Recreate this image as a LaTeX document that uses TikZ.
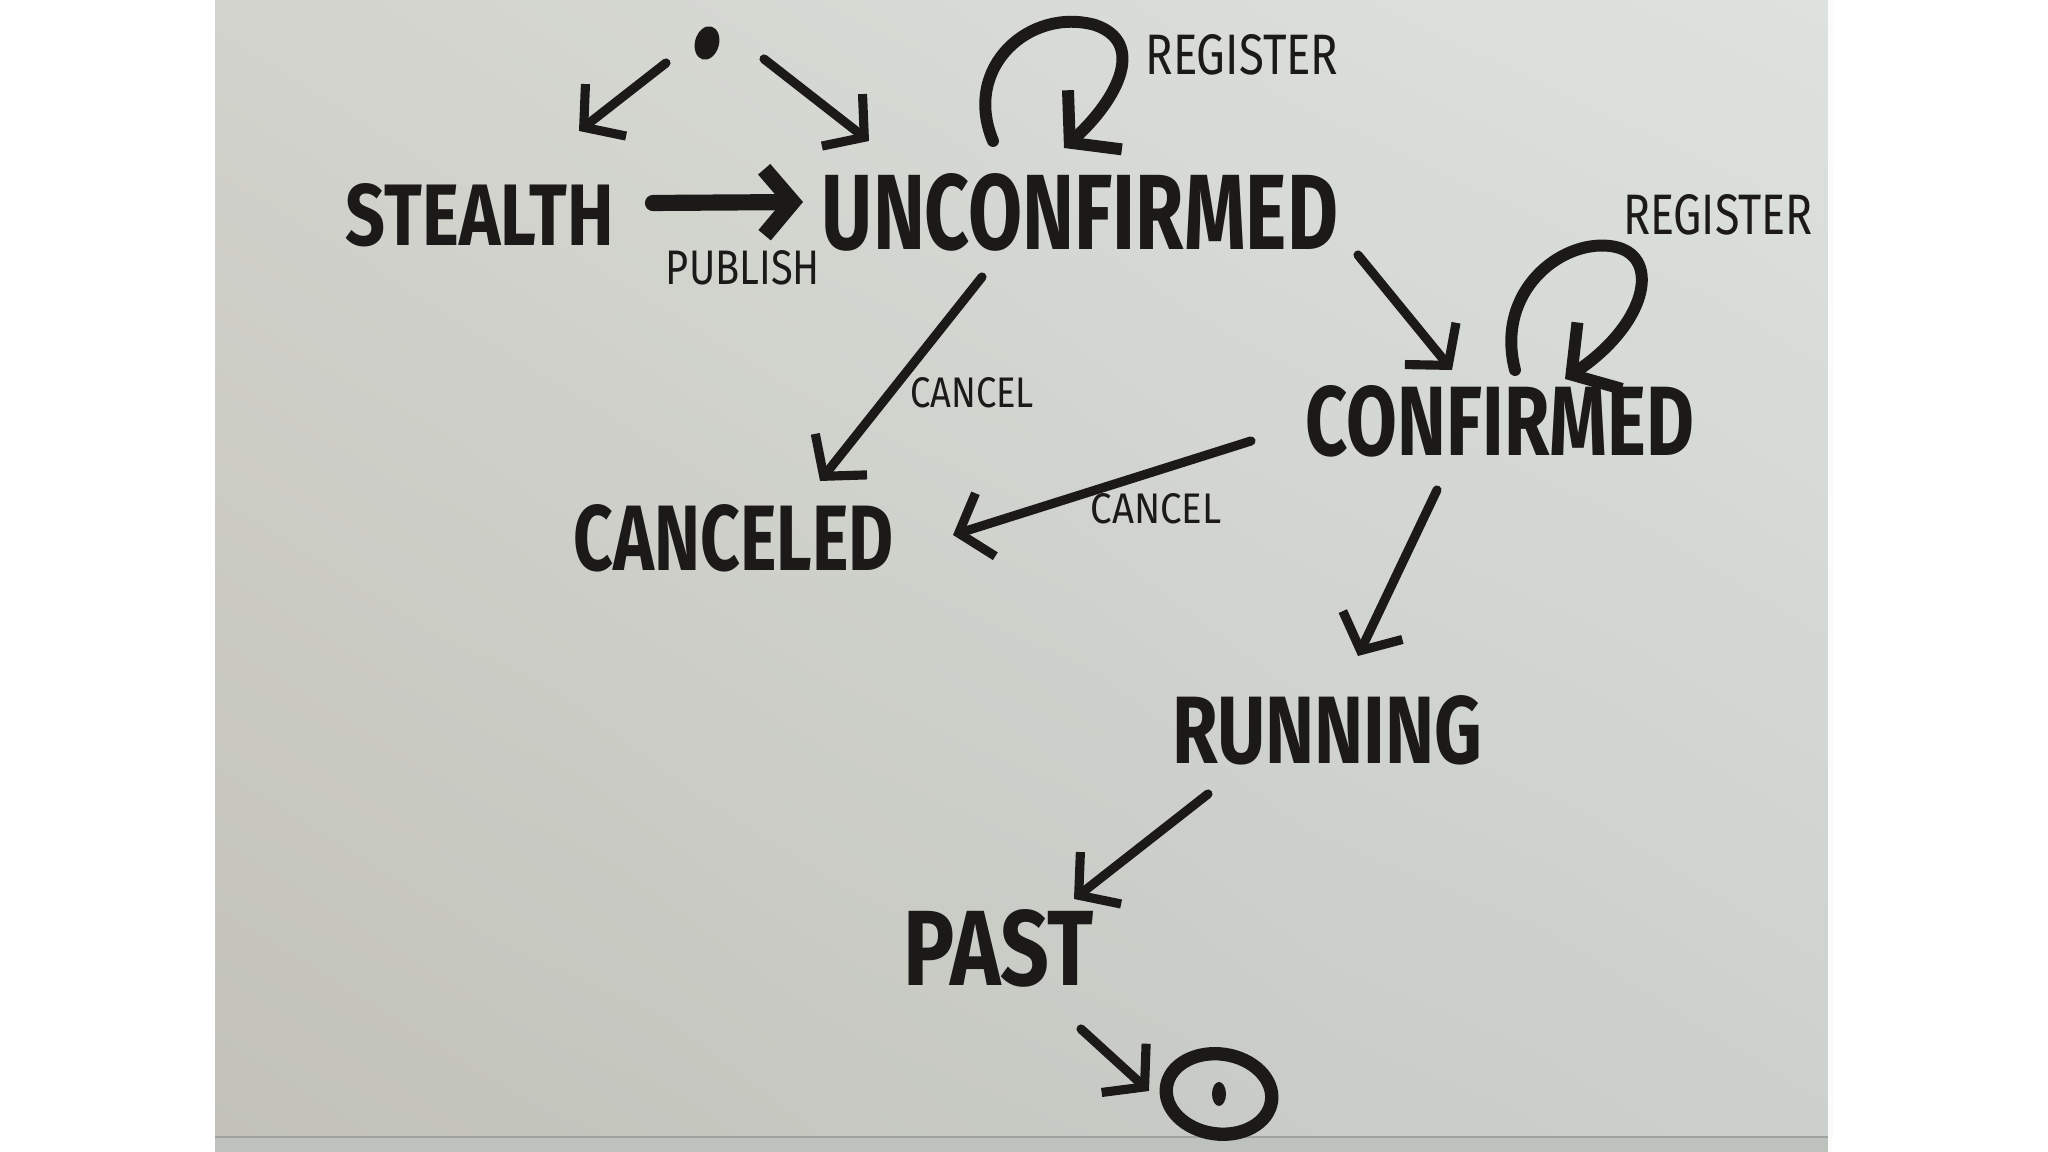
\documentclass[tikz,border=0pt]{standalone}
\usepackage{graphicx}
\usepackage{fontspec}
\setmainfont{Fira Sans}
\usetikzlibrary{arrows.meta,shadings}
\definecolor{ink}{RGB}{28,26,24}
\definecolor{paperUL}{RGB}{210,211,204}
\definecolor{paperUR}{RGB}{222,226,223}
\definecolor{paperLL}{RGB}{194,194,185}
\definecolor{paperLR}{RGB}{204,209,205}
\definecolor{edgestrip}{RGB}{190,194,189}
\definecolor{edgeline}{RGB}{160,164,160}
\newcommand{\hw}[3]{\resizebox{#1cm}{#2cm}{#3}}
\tikzset{
  statebox/.style={inner sep=0pt, text=ink, font=\bfseries},
  lbl/.style={inner sep=0pt, text=ink},
  edge/.style={draw=ink, line width=2.6pt, line cap=round, line join=round,
    -{Straight Barb[length=0.28cm,width=0.66cm]}},
  loopedge/.style={draw=ink, line width=3.4pt, line cap=round, line join=round,
    -{Straight Barb[length=0.34cm,width=0.80cm]}}
}
\begin{document}
\begin{tikzpicture}
\useasboundingbox (0,0) rectangle (20.48,11.52);
\fill[white] (0,0) rectangle (20.48,11.52);
\shade[upper left=paperUL, upper right=paperUR, lower left=paperLL, lower right=paperLR]
  (2.15,0.15) rectangle (18.32,11.52);
\fill[edgestrip] (2.15,0) rectangle (18.32,0.15);
\draw[edgeline, line width=0.8pt] (2.15,0.15) -- (18.32,0.15);
\draw[white!85!paperUR, line width=1pt] (18.30,0) -- (18.30,11.52);

% initial and final states
\node[inner sep=0pt, minimum size=0.3cm] (start) at (7.07,11.09) {};
\fill[ink, rotate around={-15:(start)}] (start) ellipse [x radius=0.12, y radius=0.17];
\node[inner sep=0pt, minimum size=0.9cm] (end) at (12.19,0.58) {};
\draw[ink, line width=3.8pt, rotate around={-8:(end)}] (end) ellipse [x radius=0.53, y radius=0.40];
\fill[ink] (end) ellipse [x radius=0.07, y radius=0.12];

% states
\node[statebox] (stealth) at (4.80,9.37) {\hw{2.68}{0.62}{STEALTH}};
\node[statebox] (unconf) at (10.80,9.40) {\hw{5.16}{0.76}{UNCONFIRMED}};
\node[statebox] (conf) at (15.00,7.31) {\hw{3.88}{0.70}{CONFIRMED}};
\node[statebox] (canceled) at (7.34,6.14) {\hw{3.20}{0.66}{CANCELED}};
\node[statebox] (running) at (13.27,4.22) {\hw{3.10}{0.68}{RUNNING}};
\node[statebox] (past) at (9.99,2.04) {\hw{1.90}{0.76}{PAST}};

% labels
\node[lbl] (publish) at (7.43,8.84) {\hw{1.54}{0.34}{PUBLISH}};
\node[lbl] (reg1) at (12.42,10.97) {\hw{1.93}{0.40}{REGISTER}};
\node[lbl] (reg2) at (17.18,9.37) {\hw{1.90}{0.40}{REGISTER}};
\node[lbl] (cancel1) at (9.72,7.59) {\hw{1.24}{0.30}{CANCEL}};
\node[lbl] (cancel2) at (11.56,6.43) {\hw{1.31}{0.30}{CANCEL}};

% transitions
\draw[edge] ([shift={(-0.41,-0.20)}]start.center) -- ([shift={(0.99,0.84)}]stealth.center);
\draw[edge] ([shift={(0.57,-0.16)}]start.center) -- ([shift={(-2.11,0.71)}]unconf.center);
\draw[edge, line width=4.6pt] ([shift={(1.73,0.12)}]stealth.center) -- ([shift={(-2.77,0.10)}]unconf.center);
\draw[loopedge] ([shift={(-0.87,0.71)}]unconf.center)
   .. controls (9.62,10.85) and (10.30,11.45) .. (10.95,11.27)
   .. controls (11.45,11.10) and (11.20,10.55) .. ([shift={(-0.16,0.64)}]unconf.center);
\draw[edge] ([shift={(-0.98,-0.65)}]unconf.center) -- ([shift={(0.86,0.57)}]canceled.center);
\draw[edge] ([shift={(2.78,-0.43)}]unconf.center) -- ([shift={(-0.48,0.51)}]conf.center);
\draw[loopedge] ([shift={(0.15,0.51)}]conf.center)
   .. controls (14.95,8.60) and (15.60,9.12) .. (16.10,9.06)
   .. controls (16.62,9.00) and (16.50,8.30) .. ([shift={(0.65,0.42)}]conf.center);
\draw[edge] ([shift={(-2.49,-0.20)}]conf.center) -- ([shift={(2.19,0.03)}]canceled.center);
\draw[edge] ([shift={(-0.63,-0.69)}]conf.center) -- ([shift={(0.31,0.74)}]running.center);
\draw[edge] ([shift={(-1.19,-0.64)}]running.center) -- ([shift={(0.75,0.49)}]past.center);
\draw[edge] ([shift={(0.82,-0.81)}]past.center) -- ([shift={(-0.70,0.03)}]end.center);
\end{tikzpicture}
\end{document}
